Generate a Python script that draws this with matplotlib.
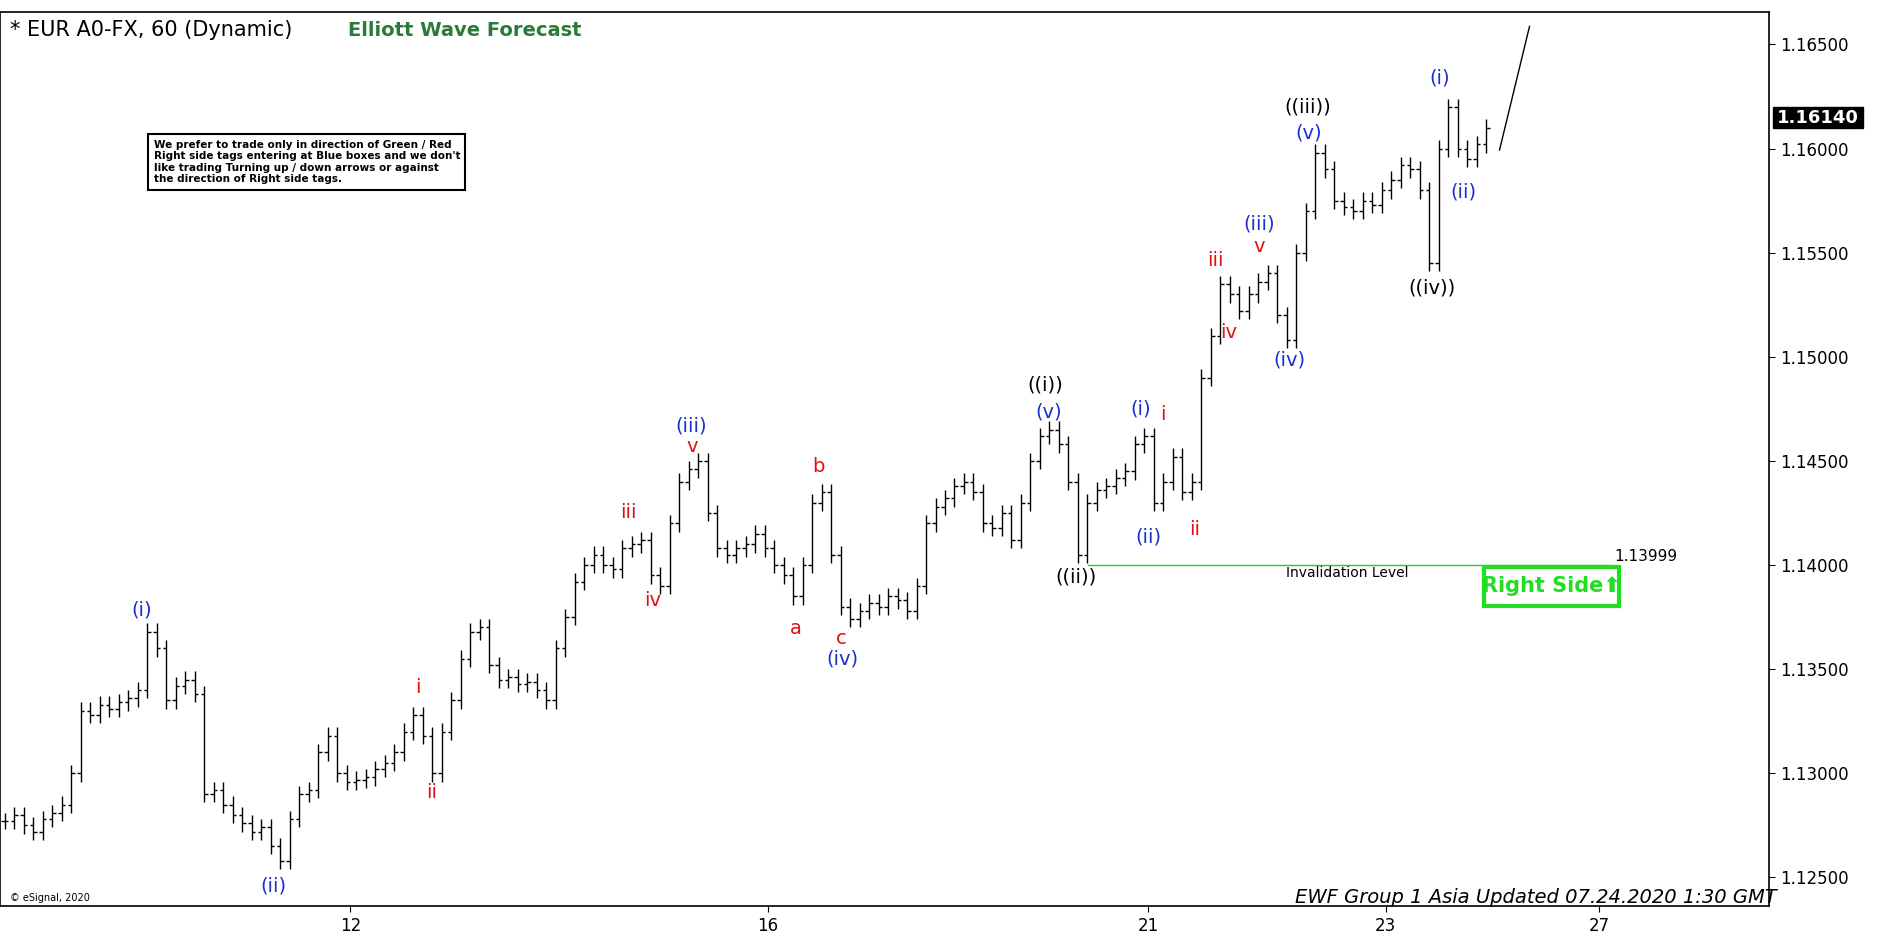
import numpy as np
import matplotlib
matplotlib.use("Agg")
import matplotlib.pyplot as plt
from matplotlib.patches import Rectangle

# closes as 1.0000 + value/10000, one bar every ~2 hours
closes = [1277, 1280, 1275, 1272, 1278, 1281, 1285,
          1300, 1330, 1328, 1333, 1331, 1334, 1336,
          1340, 1368, 1360, 1335, 1342, 1345, 1338,
          1290, 1292, 1285, 1280, 1276, 1272, 1274,
          1265, 1258, 1278, 1290, 1292, 1310, 1318,
          1300, 1296, 1297, 1298, 1302, 1305, 1310,
          1320, 1328, 1318, 1300, 1320, 1335, 1355,
          1368, 1370, 1352, 1345, 1346, 1343, 1344,
          1340, 1335, 1360, 1375, 1392, 1400, 1405,
          1400, 1398, 1408, 1410, 1412, 1395, 1390,
          1420, 1440, 1446, 1450, 1425, 1408, 1405,
          1408, 1410, 1415, 1408, 1400, 1395, 1385,
          1400, 1430, 1435, 1405, 1380, 1374, 1378,
          1382, 1380, 1385, 1383, 1378, 1390, 1420,
          1428, 1432, 1438, 1440, 1435, 1420, 1418,
          1425, 1412, 1430, 1450, 1462, 1465, 1458,
          1440, 1405, 1430, 1436, 1438, 1442, 1445,
          1458, 1462, 1430, 1440, 1452, 1435, 1440,
          1490, 1510, 1535, 1530, 1522, 1530, 1536,
          1540, 1520, 1508, 1550, 1570, 1598, 1590,
          1575, 1572, 1570, 1575, 1573, 1580, 1585,
          1592, 1590, 1580, 1545, 1600, 1620, 1600,
          1595, 1602, 1610]
date_labels = ["12", "16", "21", "23", "27"]
date_pos = [292, 640, 957, 1155, 1333]
price_ticks = [1.125, 1.130, 1.135, 1.140, 1.145, 1.150, 1.155, 1.160, 1.165]
invalidation = 1.13999
last_price = 1.16140

# wave labels: (pixel x, pixel y, text, colour)
waves = [(118, 508, "(i)", "b"), (228, 738, "(ii)", "b"), (348, 573, "i", "r"),
         (360, 660, "ii", "r"), (524, 427, "iii", "r"), (544, 500, "iv", "r"),
         (576, 355, "(iii)", "b"), (577, 372, "v", "r"), (663, 524, "a", "r"),
         (682, 389, "b", "r"), (701, 532, "c", "r"), (702, 549, "(iv)", "b"),
         (871, 321, "((i))", "k"), (874, 343, "(v)", "b"), (897, 481, "((ii))", "k"),
         (951, 341, "(i)", "b"), (957, 447, "(ii)", "b"), (969, 345, "i", "r"),
         (996, 441, "ii", "r"), (1013, 217, "iii", "r"), (1024, 277, "iv", "r"),
         (1050, 205, "v", "r"), (1050, 187, "(iii)", "b"), (1075, 300, "(iv)", "b"),
         (1090, 89, "((iii))", "k"), (1091, 111, "(v)", "b"), (1194, 240, "((iv))", "k"),
         (1200, 65, "(i)", "b"), (1220, 160, "(ii)", "b")]
colmap = {"b": "#1a2fd0", "r": "#e01010", "k": "black"}

W, H = 1568.0, 784.0


def px2price(y):
    return 1.165 - (y - 37) / 86.75 * 0.005


fig = plt.figure(figsize=(18.81, 9.41), dpi=100)
fig.patch.set_facecolor("white")
ax = fig.add_axes([0, 1 - 755 / H, 1475 / W, 745 / H])
ax.set_xlim(0, 1475)
ax.set_ylim(px2price(755), px2price(10))

c = np.array(closes) / 10000 + 1.0
o = np.r_[c[0], c[:-1]]
hi = np.maximum(o, c) + 0.0004
lo = np.minimum(o, c) - 0.0004
step = 1235.0 / (len(c) - 1)
xs = 4 + np.arange(len(c)) * step
ax.vlines(xs, lo, hi, color="black", lw=1)
ax.hlines(o, xs - 3, xs, color="black", lw=1)
ax.hlines(c, xs, xs + 3, color="black", lw=1)

ax.plot([1250, 1275], [px2price(125), px2price(22)], color="black", lw=1)
ax.plot([907, 1345], [invalidation, invalidation], color="#22cc22", lw=1)
ax.text(1372, invalidation + 0.00005, "1.13999", ha="center", va="bottom", fontsize=11)
ax.text(1123, invalidation - 0.00005, "Invalidation Level", ha="center", va="top", fontsize=10)

for x, y, t, col in waves:
    ax.text(x, px2price(y), t, color=colmap[col], ha="center", va="center", fontsize=14)

ax.yaxis.tick_right()
ax.set_yticks(price_ticks)
ax.set_yticklabels(["%.5f" % p for p in price_ticks], fontsize=12)
ax.set_xticks(date_pos)
ax.set_xticklabels(date_labels, fontsize=12)
ax.tick_params(direction="out", length=4)
for s in ax.spines.values():
    s.set_linewidth(1.2)

# right side tag
fig.patches.append(Rectangle((1237 / W, 1 - 505 / H), 113 / W, 33 / H, transform=fig.transFigure,
                             fill=False, edgecolor="#22dd22", lw=3))
fig.text(1293 / W, 1 - 488 / H, "Right Side\u2b06", color="#22dd22", fontsize=15,
         fontweight="bold", ha="center", va="center")

# last price tag
fig.patches.append(Rectangle((1478 / W, 1 - 107 / H), 75 / W, 18 / H, transform=fig.transFigure,
                             color="black"))
fig.text(1515 / W, 1 - 98 / H, "%.5f" % last_price, color="white", fontsize=13,
         fontweight="bold", ha="center", va="center")

fig.text(8 / W, 1 - 25 / H, "* EUR A0-FX, 60 (Dynamic)", fontsize=15, va="center")
fig.text(290 / W, 1 - 25 / H, "Elliott Wave Forecast", fontsize=14, fontweight="bold",
         color="#2a7a3a", va="center")
fig.text(128 / W, 1 - 135 / H,
         "We prefer to trade only in direction of Green / Red\nRight side tags entering at Blue boxes and we don't\n"
         "like trading Turning up / down arrows or against\nthe direction of Right side tags.",
         fontsize=7.5, fontweight="bold", va="center",
         bbox=dict(boxstyle="square,pad=0.5", facecolor="white", edgecolor="black", lw=1.5))
fig.text(1280 / W, 1 - 748 / H, "EWF Group 1 Asia Updated 07.24.2020 1:30 GMT",
         fontsize=14, style="italic", ha="center", va="center")
fig.text(8 / W, 1 - 748 / H, "\u00a9 eSignal, 2020", fontsize=7, va="center")

fig.savefig("out.png", dpi=100)
